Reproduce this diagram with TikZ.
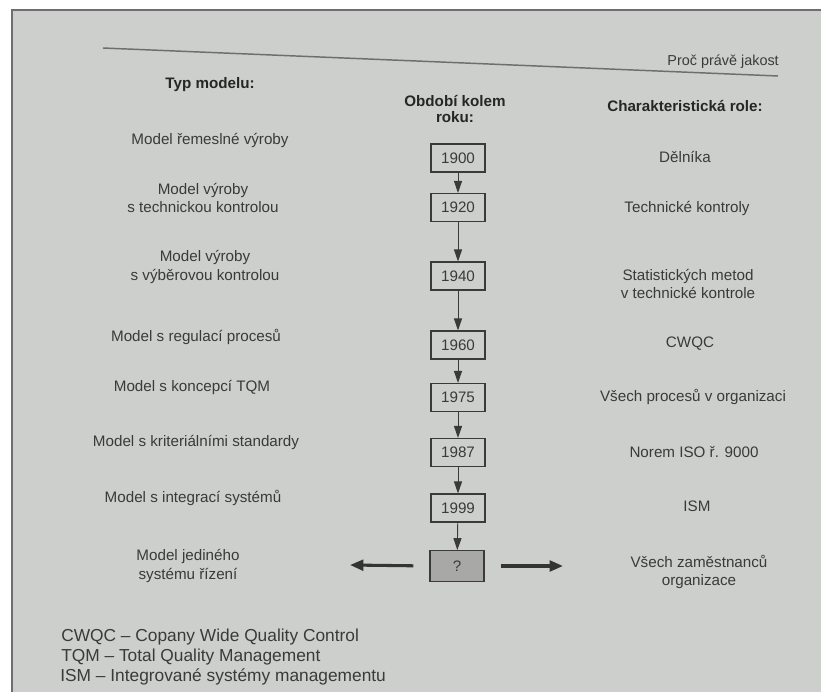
\documentclass[tikz,border=0pt]{standalone}
\usepackage{fontspec}
\setmainfont{Liberation Sans}
\usetikzlibrary{arrows.meta}
\definecolor{page}{RGB}{205,207,204}
\definecolor{ink}{RGB}{58,58,58}
\definecolor{qfill}{RGB}{168,169,166}
\definecolor{edge}{RGB}{110,110,110}
\begin{document}
\begin{tikzpicture}[x=0.75pt,y=-0.75pt,
  every node/.style={text=ink, inner sep=0pt},
  txt/.style={font=\fontsize{11.4}{14}\selectfont, align=center},
  head/.style={font=\fontsize{11.4}{12.5}\selectfont\bfseries, align=center, text=black!85},
  foot/.style={font=\fontsize{13}{15}\selectfont, align=left, anchor=west},
  yearbox/.style={draw=ink, line width=0.8pt, fill=page, minimum width=40.5pt, minimum height=21pt, font=\fontsize{11.4}{14}\selectfont},
  qbox/.style={yearbox, fill=qfill},
  steparrow/.style={draw=ink, line width=0.7pt, -{Triangle[width=6pt,length=9pt]}},
  bigarrow/.style={draw=ink!90!black, line width=2.3pt, -{Triangle[width=8pt,length=10pt]}}
]
\useasboundingbox (0,0) rectangle (821,692);
\fill[white] (0,0) rectangle (821,692);
\fill[page] (12,10) rectangle (821,692);
\draw[edge, line width=1.5pt] (12,692) -- (12,10) -- (821,10);
% header rule
\draw[edge, line width=1.1pt] (103,48) -- (778,76);
\node[txt, anchor=east, font=\fontsize{10.8}{13}\selectfont] (run) at (779,62) {Proč právě jakost};

% column heads
\node[head] (h1) at (210,85) {Typ modelu:};
\node[head] (h2) at (455,109) {Období kolem\\roku:};
\node[head] (h3) at (685,106) {Charakteristická role:};

% year boxes
\node[yearbox] (y1) at (458,158) {1900};
\node[yearbox] (y2) at (458,207.5) {1920};
\node[yearbox] (y3) at (458,276) {1940};
\node[yearbox] (y4) at (458,345) {1960};
\node[yearbox] (y5) at (458,397.5) {1975};
\node[yearbox] (y6) at (458,452.5) {1987};
\node[yearbox] (y7) at (458,508) {1999};
\node[qbox, minimum height=23pt] (y8) at (457,566) {?};

\draw[steparrow] (y1) -- (y2);
\draw[steparrow] (y2) -- (y3);
\draw[steparrow] (y3) -- (y4);
\draw[steparrow] (y4) -- (y5);
\draw[steparrow] (y5) -- (y6);
\draw[steparrow] (y6) -- (y7);
\draw[steparrow] (y7) -- (y8);

% left labels
\node[txt] (l1) at (210,140) {Model řemeslné výroby};
\node[txt] (l2) at (203,198) {Model výroby\\s technickou kontrolou};
\node[txt] (l3) at (205,267) {Model výroby\\s výběrovou kontrolou};
\node[txt] (l4) at (196,337) {Model s regulací procesů};
\node[txt] (l5) at (192,387) {Model s koncepcí TQM};
\node[txt] (l6) at (196,442) {Model s kriteriálními standardy};
\node[txt] (l7) at (193,498) {Model s integrací systémů};
\node[txt] (l8) at (188,566) {Model jediného\\systému řízení};

% right labels
\node[txt] (r1) at (685,157) {Dělníka};
\node[txt] (r2) at (687,208) {Technické kontroly};
\node[txt] (r3) at (688,284) {Statistických metod\\v technické kontrole};
\node[txt] (r4) at (690,344) {CWQC};
\node[txt] (r5) at (693,397) {Všech procesů v organizaci};
\node[txt] (r6) at (694,452) {Norem ISO ř. 9000};
\node[txt] (r7) at (697,506) {ISM};
\node[txt] (r8) at (699,572) {Všech zaměstnanců\\organizace};

% outgoing arrows
\coordinate (aL) at (350,565);
\coordinate (aR) at (563,566);
\draw[bigarrow, shorten <=12pt] (y8.west) -- (aL);
\draw[bigarrow, shorten <=12pt] (y8.east |- aR) -- (aR);

% footnotes
\node[foot] (f1) at (61,637) {CWQC – Copany Wide Quality Control};
\node[foot] (f2) at (61,657) {TQM – Total Quality Management};
\node[foot] (f3) at (60,677) {ISM – Integrované systémy managementu};
\end{tikzpicture}
\end{document}
